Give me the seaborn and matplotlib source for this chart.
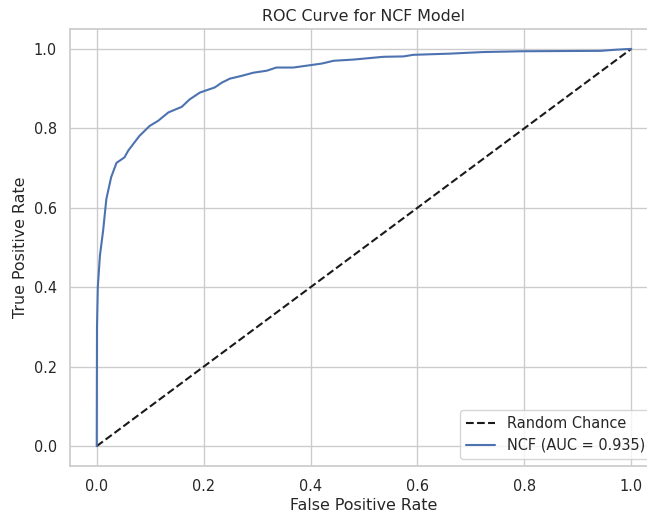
import matplotlib
matplotlib.use("Agg")
import matplotlib.pyplot as plt
import seaborn as sns
import pandas as pd

fpr = [0.0, 0.0005, 0.002, 0.006, 0.012, 0.018, 0.027, 0.037, 0.052, 0.059, 0.068,
       0.080, 0.099, 0.115, 0.134, 0.159, 0.174, 0.193, 0.221, 0.234, 0.249,
       0.271, 0.293, 0.318, 0.336, 0.368, 0.421, 0.443, 0.480, 0.536, 0.574,
       0.592, 0.661, 0.723, 0.798, 0.942, 0.973, 1.0]
tpr = [0.0, 0.30, 0.40, 0.48, 0.543, 0.622, 0.677, 0.713, 0.727, 0.744, 0.760,
       0.781, 0.806, 0.819, 0.840, 0.854, 0.873, 0.890, 0.903, 0.915, 0.925,
       0.932, 0.940, 0.945, 0.953, 0.953, 0.963, 0.970, 0.973, 0.980, 0.981,
       0.985, 0.988, 0.992, 0.994, 0.995, 0.998, 1.0]
chance = [0.0, 1.0]
auc = 0.935

sns.set_theme(style="whitegrid", context="notebook", font_scale=0.95)

fig = plt.figure(figsize=(6.47, 5.13), dpi=100)
ax = fig.add_axes([70/647, 47/513, 588/647, 437/513])

sns.lineplot(x=chance, y=chance, ax=ax, color="k", linestyle="--", label="Random Chance")
sns.lineplot(x=fpr, y=tpr, ax=ax, color=sns.color_palette()[0], label=f"NCF (AUC = {auc})",
             estimator=None, sort=False)

ax.set_xlim(-0.05, 1.05)
ax.set_ylim(-0.05, 1.05)
ax.set_xticks([0, 0.2, 0.4, 0.6, 0.8, 1.0])
ax.set_yticks([0, 0.2, 0.4, 0.6, 0.8, 1.0])
ax.set_xlabel("False Positive Rate", labelpad=3)
ax.set_ylabel("True Positive Rate")
ax.set_title("ROC Curve for NCF Model")
ax.legend(loc="lower right")

fig.savefig("out.png", dpi=100)
